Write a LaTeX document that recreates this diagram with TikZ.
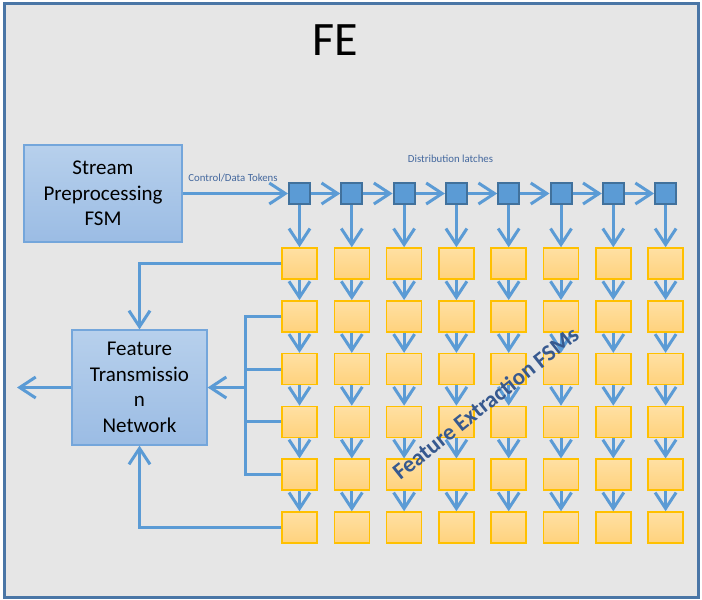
\documentclass[tikz,border=0pt]{standalone}
\usepackage{fontspec}
\setmainfont{Carlito}
\usetikzlibrary{arrows.meta}

\definecolor{panelbg}{HTML}{E6E6E6}
\definecolor{panelrim}{HTML}{4A76A6}
\definecolor{boxtop}{HTML}{B7D0EC}
\definecolor{boxbot}{HTML}{9BBCE4}
\definecolor{boxrim}{HTML}{74A6DB}
\definecolor{latchfill}{HTML}{5B9BD5}
\definecolor{latchrim}{HTML}{41719C}
\definecolor{linkblue}{HTML}{5B9BD5}
\definecolor{celltop}{HTML}{FFE0A3}
\definecolor{cellbot}{HTML}{FFD27D}
\definecolor{cellrim}{HTML}{FFC000}
\definecolor{tagtext}{HTML}{44689E}
\definecolor{fsmtext}{HTML}{37598F}

\begin{document}
\begin{tikzpicture}[x=1pt,y=-1pt,
  panel/.style={draw=panelrim, fill=panelbg, line width=3pt},
  fsmbox/.style={draw=boxrim, line width=1.2pt, top color=boxtop, bottom color=boxbot,
    align=center, inner sep=0pt, font=\fontsize{21}{25.5}\selectfont},
  latch/.style={draw=latchrim, fill=latchfill, line width=2pt, minimum size=21pt, inner sep=0pt},
  cell/.style={draw=cellrim, line width=1.5pt, top color=celltop, bottom color=cellbot,
    minimum width=35pt, minimum height=31pt, inner sep=0pt},
  wire/.style={draw=linkblue, line width=3pt},
  link/.style={wire, -{Straight Barb[length=16pt,width=21pt]}},
  tag/.style={text=tagtext, font=\fontsize{10.8}{13}\selectfont, inner sep=0pt}]

\useasboundingbox (0,0) rectangle (702,600);

% outer panel
\draw[panel] (4.5,3.5) rectangle (698,597);
\node[font=\fontsize{48}{56}\selectfont, inner sep=0pt] (title) at (335.5,40.5) {FE};

% main blocks
\node[fsmbox, minimum width=158pt, minimum height=97pt] (spp) at (103,193.5)
  {Stream\\Preprocessing\\FSM};
\node[fsmbox, minimum width=135pt, minimum height=115pt] (ftn) at (139.5,387.5)
  {Feature\\Transmissio\\n\\Network};

% distribution latches and the grid of extraction cells
\foreach \i in {0,...,7} {
  \node[latch] (L\i) at (299.5+52.3*\i,193.5) {};
  \foreach \j in {0,...,5}
    \node[cell] (C\i-\j) at (299.5+52.3*\i,263.5+52.8*\j) {};
}

% token chain
\draw[link] (spp.east) -- (L0.west);
\foreach \i [evaluate=\i as \k using int(\i+1)] in {0,...,6}
  \draw[link] (L\i.east) -- (L\k.west);

% latch to column, and down each column
\foreach \i in {0,...,7} {
  \draw[link] (L\i.south) -- (C\i-0.north);
  \foreach \j [evaluate=\j as \k using int(\j+1)] in {0,...,4}
    \draw[link] (C\i-\j.south) -- (C\i-\k.north);
}

% collection into the transmission network
\coordinate (bus) at (245,387.5);
\coordinate (out) at (17,387.5);
\draw[link] (C0-0.west) -| (ftn.north);
\draw[link] (C0-5.west) -| (ftn.south);
\foreach \j in {1,...,4}
  \draw[wire] (C0-\j.west) -| (bus);
\draw[link] (bus) -- (ftn.east);
\draw[link] (ftn.west) -- (out);

% labels
\node[tag] (cdt) at (233,178) {Control/Data Tokens};
\node[tag] (dl) at (450.5,159) {Distribution latches};
\node[rotate=38.5, text=fsmtext, font=\bfseries\fontsize{23}{27}\selectfont, inner sep=0pt]
  (fex) at (485.5,403) {Feature Extraction FSMs};
\end{tikzpicture}
\end{document}
